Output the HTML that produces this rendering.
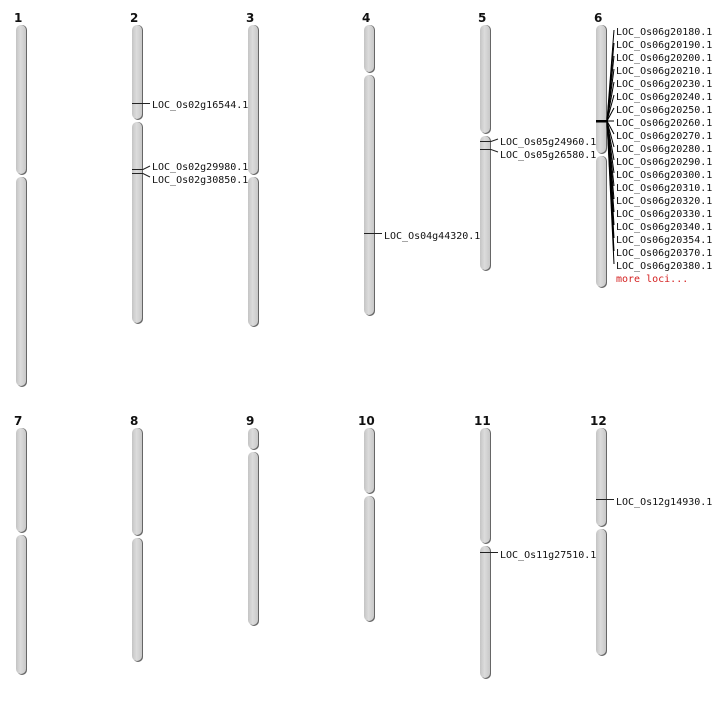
<!DOCTYPE html>
<html><head><meta charset="utf-8"><style>
html,body{margin:0;padding:0;background:#fff;}
svg text{font-family:"DejaVu Sans Mono","Liberation Mono",monospace;font-size:10px;fill:#111;}
svg text.n{font-family:"DejaVu Sans","Liberation Sans",sans-serif;font-weight:bold;font-size:12px;}
</style></head><body>
<svg width="712" height="700" xmlns="http://www.w3.org/2000/svg">
<defs>
<linearGradient id="g" x1="0" x2="1" y1="0" y2="0">
<stop offset="0" stop-color="#c4c4c4"/><stop offset="0.45" stop-color="#dcdcdc"/><stop offset="1" stop-color="#c8c8c8"/>
</linearGradient>
<symbol id="x"></symbol>
</defs>
<g id="chroms">
<!-- helper: shadow rect + main rect per segment -->
<!-- chr1 -->
<rect x="17" y="25" width="10" height="150" rx="5" fill="#666"/><rect x="16" y="25" width="10" height="149" rx="5" fill="url(#g)"/>
<rect x="17" y="177" width="10" height="210" rx="5" fill="#666"/><rect x="16" y="177" width="10" height="209" rx="5" fill="url(#g)"/>
<!-- chr2 -->
<rect x="133" y="25" width="10" height="95" rx="5" fill="#666"/><rect x="132" y="25" width="10" height="94" rx="5" fill="url(#g)"/>
<rect x="133" y="122" width="10" height="202" rx="5" fill="#666"/><rect x="132" y="122" width="10" height="201" rx="5" fill="url(#g)"/>
<!-- chr3 -->
<rect x="249" y="25" width="10" height="150" rx="5" fill="#666"/><rect x="248" y="25" width="10" height="149" rx="5" fill="url(#g)"/>
<rect x="249" y="177" width="10" height="150" rx="5" fill="#666"/><rect x="248" y="177" width="10" height="149" rx="5" fill="url(#g)"/>
<!-- chr4 -->
<rect x="365" y="25" width="10" height="48" rx="5" fill="#666"/><rect x="364" y="25" width="10" height="47" rx="5" fill="url(#g)"/>
<rect x="365" y="75" width="10" height="241" rx="5" fill="#666"/><rect x="364" y="75" width="10" height="240" rx="5" fill="url(#g)"/>
<!-- chr5 -->
<rect x="481" y="25" width="10" height="109" rx="5" fill="#666"/><rect x="480" y="25" width="10" height="108" rx="5" fill="url(#g)"/>
<rect x="481" y="136" width="10" height="135" rx="5" fill="#666"/><rect x="480" y="136" width="10" height="134" rx="5" fill="url(#g)"/>
<!-- chr6 -->
<rect x="597" y="25" width="10" height="129" rx="5" fill="#666"/><rect x="596" y="25" width="10" height="128" rx="5" fill="url(#g)"/>
<rect x="597" y="156" width="10" height="132" rx="5" fill="#666"/><rect x="596" y="156" width="10" height="131" rx="5" fill="url(#g)"/>
<!-- chr7 -->
<rect x="17" y="428" width="10" height="105" rx="5" fill="#666"/><rect x="16" y="428" width="10" height="104" rx="5" fill="url(#g)"/>
<rect x="17" y="535" width="10" height="140" rx="5" fill="#666"/><rect x="16" y="535" width="10" height="139" rx="5" fill="url(#g)"/>
<!-- chr8 -->
<rect x="133" y="428" width="10" height="108" rx="5" fill="#666"/><rect x="132" y="428" width="10" height="107" rx="5" fill="url(#g)"/>
<rect x="133" y="538" width="10" height="124" rx="5" fill="#666"/><rect x="132" y="538" width="10" height="123" rx="5" fill="url(#g)"/>
<!-- chr9 -->
<rect x="249" y="428" width="10" height="22" rx="5" fill="#666"/><rect x="248" y="428" width="10" height="21" rx="5" fill="url(#g)"/>
<rect x="249" y="452" width="10" height="174" rx="5" fill="#666"/><rect x="248" y="452" width="10" height="173" rx="5" fill="url(#g)"/>
<!-- chr10 -->
<rect x="365" y="428" width="10" height="66" rx="5" fill="#666"/><rect x="364" y="428" width="10" height="65" rx="5" fill="url(#g)"/>
<rect x="365" y="496" width="10" height="126" rx="5" fill="#666"/><rect x="364" y="496" width="10" height="125" rx="5" fill="url(#g)"/>
<!-- chr11 -->
<rect x="481" y="428" width="10" height="116" rx="5" fill="#666"/><rect x="480" y="428" width="10" height="115" rx="5" fill="url(#g)"/>
<rect x="481" y="546" width="10" height="133" rx="5" fill="#666"/><rect x="480" y="546" width="10" height="132" rx="5" fill="url(#g)"/>
<!-- chr12 -->
<rect x="597" y="428" width="10" height="99" rx="5" fill="#666"/><rect x="596" y="428" width="10" height="98" rx="5" fill="url(#g)"/>
<rect x="597" y="529" width="10" height="127" rx="5" fill="#666"/><rect x="596" y="529" width="10" height="126" rx="5" fill="url(#g)"/>
</g>
<g>
<text class="n" x="14" y="22">1</text><text class="n" x="130" y="22">2</text><text class="n" x="246" y="22">3</text>
<text class="n" x="362" y="22">4</text><text class="n" x="478" y="22">5</text><text class="n" x="594" y="22">6</text>
<text class="n" x="14" y="425">7</text><text class="n" x="130" y="425">8</text><text class="n" x="246" y="425">9</text>
<text class="n" x="358" y="425">10</text><text class="n" x="474" y="425">11</text><text class="n" x="590" y="425">12</text>
</g>
<g stroke="#222" stroke-width="1" fill="none">
<path d="M132 103.5H150"/>
<path d="M132 169.5H143L150 166"/><path d="M132 173.5H143L150 177"/>
<path d="M364 233.5H382"/>
<path d="M480 141.5H491L498 139"/><path d="M480 149.5H491L498 152"/>
<path d="M480 552.5H498"/>
<path d="M596 499.5H614"/>
</g>
<g>
<text x="152" y="108">LOC_Os02g16544.1</text>
<text x="152" y="170">LOC_Os02g29980.1</text>
<text x="152" y="183">LOC_Os02g30850.1</text>
<text x="384" y="239">LOC_Os04g44320.1</text>
<text x="500" y="145">LOC_Os05g24960.1</text>
<text x="500" y="158">LOC_Os05g26580.1</text>
<text x="500" y="558">LOC_Os11g27510.1</text>
<text x="616" y="505">LOC_Os12g14930.1</text>
</g>
<rect x="596" y="120" width="11" height="2.5" fill="#000"/>
<g stroke="#000" stroke-width="1">
<line x1="607" y1="121" x2="614" y2="30"/><line x1="607" y1="121" x2="614" y2="43"/><line x1="607" y1="121" x2="614" y2="56"/>
<line x1="607" y1="121" x2="614" y2="69"/><line x1="607" y1="121" x2="614" y2="82"/><line x1="607" y1="121" x2="614" y2="95"/>
<line x1="607" y1="121" x2="614" y2="108"/><line x1="607" y1="121" x2="614" y2="121"/><line x1="607" y1="121" x2="614" y2="134"/>
<line x1="607" y1="121" x2="614" y2="147"/><line x1="607" y1="121" x2="614" y2="160"/><line x1="607" y1="121" x2="614" y2="173"/>
<line x1="607" y1="121" x2="614" y2="186"/><line x1="607" y1="121" x2="614" y2="199"/><line x1="607" y1="121" x2="614" y2="212"/>
<line x1="607" y1="121" x2="614" y2="225"/><line x1="607" y1="121" x2="614" y2="238"/><line x1="607" y1="121" x2="614" y2="251"/>
<line x1="607" y1="121" x2="614" y2="264"/>
</g>
<g>
<text x="616" y="35">LOC_Os06g20180.1</text><text x="616" y="48">LOC_Os06g20190.1</text><text x="616" y="61">LOC_Os06g20200.1</text>
<text x="616" y="74">LOC_Os06g20210.1</text><text x="616" y="87">LOC_Os06g20230.1</text><text x="616" y="100">LOC_Os06g20240.1</text>
<text x="616" y="113">LOC_Os06g20250.1</text><text x="616" y="126">LOC_Os06g20260.1</text><text x="616" y="139">LOC_Os06g20270.1</text>
<text x="616" y="152">LOC_Os06g20280.1</text><text x="616" y="165">LOC_Os06g20290.1</text><text x="616" y="178">LOC_Os06g20300.1</text>
<text x="616" y="191">LOC_Os06g20310.1</text><text x="616" y="204">LOC_Os06g20320.1</text><text x="616" y="217">LOC_Os06g20330.1</text>
<text x="616" y="230">LOC_Os06g20340.1</text><text x="616" y="243">LOC_Os06g20354.1</text><text x="616" y="256">LOC_Os06g20370.1</text>
<text x="616" y="269">LOC_Os06g20380.1</text>
<text x="616" y="282" style="fill:#d42020">more loci...</text>
</g>
</svg>
</body></html>
